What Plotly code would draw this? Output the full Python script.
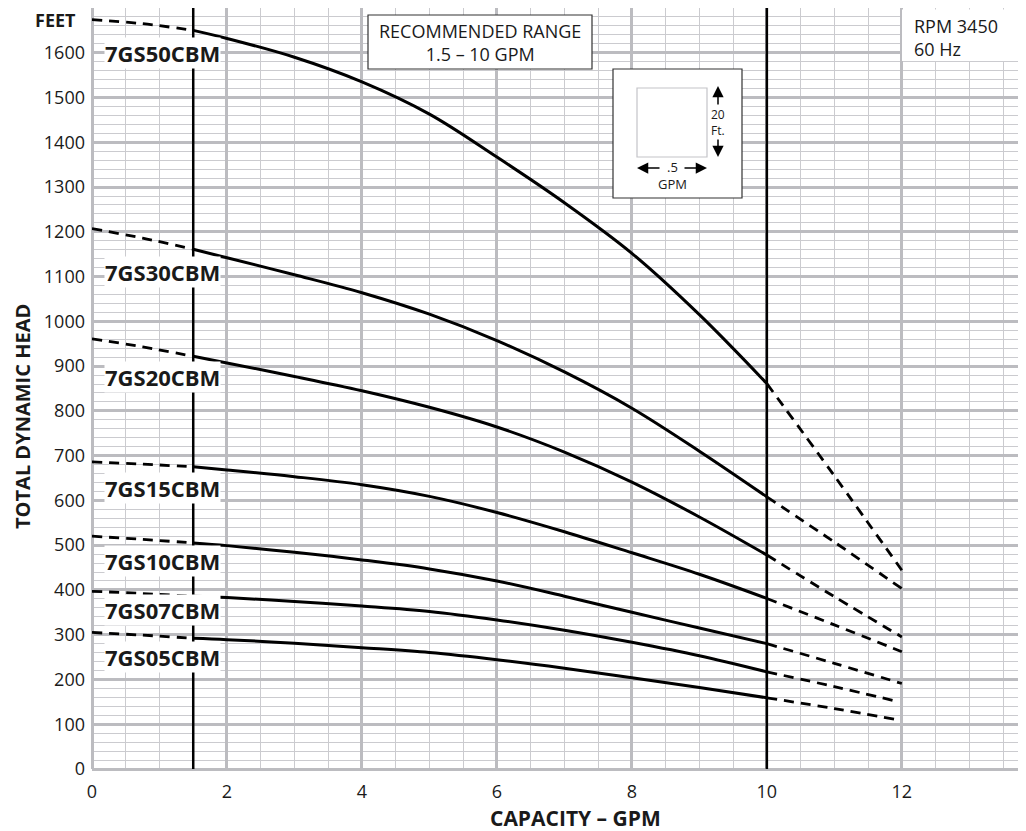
import plotly.graph_objects as go

# ---------------- data ----------------
MODELS = ["7GS50CBM", "7GS30CBM", "7GS20CBM", "7GS15CBM", "7GS10CBM", "7GS07CBM", "7GS05CBM"]

GPM_LOW = [0, 0.75, 1.5]                      # dashed, below recommended range
GPM_MID = [1.5, 2, 3, 4, 5, 6, 7, 8, 9, 10]   # solid, recommended range
GPM_HIGH = [10, 11, 12]                       # dashed, above recommended range
GPM_HIGH_SHORT = [10, 11, 11.9]

HEAD_50_LOW = [1674, 1665, 1650]
HEAD_50_MID = [1650, 1632, 1590, 1535, 1463, 1367, 1265, 1152, 1015, 861]
HEAD_50_HIGH = [861, 655, 444]

HEAD_30_LOW = [1207, 1186, 1161]
HEAD_30_MID = [1161, 1142, 1104, 1064, 1016, 957, 887, 806, 710, 608]
HEAD_30_HIGH = [608, 507, 403]

HEAD_20_LOW = [961, 943, 922]
HEAD_20_MID = [922, 907, 877, 845, 808, 764, 708, 641, 563, 478]
HEAD_20_HIGH = [478, 385, 295]

HEAD_15_LOW = [686, 681, 675]
HEAD_15_MID = [675, 668, 653, 635, 609, 573, 530, 483, 435, 381]
HEAD_15_HIGH = [381, 322, 262]

HEAD_10_LOW = [520, 513, 505]
HEAD_10_MID = [505, 499, 484, 467, 447, 420, 386, 350, 315, 280]
HEAD_10_HIGH = [280, 236, 191]

HEAD_07_LOW = [397, 392, 386]
HEAD_07_MID = [386, 383, 374, 364, 352, 333, 310, 283, 253, 217]
HEAD_07_HIGH = [217, 184, 152]

HEAD_05_LOW = [305, 299, 292]
HEAD_05_MID = [292, 289, 281, 271, 260, 244, 225, 204, 182, 159]
HEAD_05_HIGH = [159, 135, 111]

RECOMMENDED_GPM = [1.5, 10]

X_TICKS = [0, 2, 4, 6, 8, 10, 12]
Y_TICKS = list(range(0, 1800, 100))
Y_TICK_TEXT = [str(v) if v < 1700 else "" for v in Y_TICKS]

# ---------------- layout constants ----------------
OFF = 8                       # page body margin
FIG_W, FIG_H = 1026 - OFF, 831 - OFF
PL, PT, PR, PB = 92, 8, 1026, 769     # plot area in page pixels
L, T = PL - OFF, PT - OFF
R = FIG_W - (PR - OFF)
B = FIG_H - (PB - OFF)
PW, PH = PR - PL, PB - PT


def px(xp):
    return (xp - PL) / PW


def py(yp):
    return (PB - yp) / PH


FONT = "Open Sans"
INK = "#1a1a1a"
GRID_MAJOR = "#bcbcc0"
GRID_MINOR = "#cbcbcf"

series = [
    (HEAD_50_LOW, HEAD_50_MID, HEAD_50_HIGH, GPM_HIGH),
    (HEAD_30_LOW, HEAD_30_MID, HEAD_30_HIGH, GPM_HIGH),
    (HEAD_20_LOW, HEAD_20_MID, HEAD_20_HIGH, GPM_HIGH),
    (HEAD_15_LOW, HEAD_15_MID, HEAD_15_HIGH, GPM_HIGH),
    (HEAD_10_LOW, HEAD_10_MID, HEAD_10_HIGH, GPM_HIGH),
    (HEAD_07_LOW, HEAD_07_MID, HEAD_07_HIGH, GPM_HIGH_SHORT),
    (HEAD_05_LOW, HEAD_05_MID, HEAD_05_HIGH, GPM_HIGH_SHORT),
]

fig = go.Figure()
DASH = "10px,7px"
for name, (lo, mid, hi, gx_hi) in zip(MODELS, series):
    fig.add_trace(go.Scatter(x=GPM_LOW, y=lo, mode="lines", name=name, showlegend=False,
                             line=dict(color="black", width=2.8, dash=DASH, shape="spline")))
    fig.add_trace(go.Scatter(x=GPM_MID, y=mid, mode="lines", name=name, showlegend=False,
                             line=dict(color="black", width=3, shape="spline", smoothing=1.0)))
    fig.add_trace(go.Scatter(x=gx_hi, y=hi, mode="lines", name=name, showlegend=False,
                             line=dict(color="black", width=2.8, dash=DASH, shape="spline")))

shapes = []
for gx in RECOMMENDED_GPM:
    shapes.append(dict(type="line", xref="x", yref="paper", x0=gx, x1=gx, y0=0, y1=1,
                       line=dict(color="black", width=2.5), layer="above"))

# recommended range box
shapes.append(dict(type="rect", xref="paper", yref="paper",
                   x0=px(368), x1=px(592), y0=py(69), y1=py(15),
                   line=dict(color="#333333", width=1.2), fillcolor="white", layer="above"))
# scale inset box
shapes.append(dict(type="rect", xref="paper", yref="paper",
                   x0=px(613), x1=px(742), y0=py(198), y1=py(69),
                   line=dict(color="#333333", width=1.2), fillcolor="white", layer="above"))
shapes.append(dict(type="rect", xref="paper", yref="paper",
                   x0=px(637), x1=px(707), y0=py(157), y1=py(88),
                   line=dict(color="#c4c4c8", width=1.2), fillcolor="white", layer="above"))
# RPM white area
shapes.append(dict(type="rect", xref="paper", yref="paper",
                   x0=px(902), x1=1.0, y0=py(61), y1=py(PT + 1.5),
                   line=dict(width=0), fillcolor="white", layer="above"))


def note(x, y, text, size=18, xanchor="center", **kw):
    d = dict(xref="paper", yref="paper", x=px(x), y=py(y), text=text, showarrow=False,
             xanchor=xanchor, yanchor="middle", font=dict(family=FONT, size=size, color=INK))
    d.update(kw)
    return d


annotations = []
LABEL_Y_PX = [53, 272, 377, 488, 561, 610, 657]
for name, ly in zip(MODELS, LABEL_Y_PX):
    annotations.append(note(162, ly, f"<b>{name}</b>", size=22, bgcolor="white", borderpad=0))

annotations += [
    note(78, 20, "<b>FEET</b>", size=18, xanchor="right"),
    note(23, 417, "<b>TOTAL DYNAMIC HEAD</b>", size=20, textangle=-90),
    note(575, 818, "<b>CAPACITY – GPM</b>", size=21),
    note(480, 42, "RECOMMENDED RANGE<br>1.5 – 10 GPM", size=18),
    note(912, 37, "RPM 3450<br>60 Hz", size=18, xanchor="left", align="left"),
    # inset texts
    note(718, 114, "20", size=12),
    note(718, 130, "Ft.", size=12),
    note(672, 167, ".5", size=13),
    note(672, 184, "GPM", size=13),
]
# inset arrows
for hx, hy, ax, ay in [(718, 86, 0, 20), (718, 157, 0, -19), (637, 168, 24, 0), (707, 168, -24, 0)]:
    annotations.append(dict(xref="paper", yref="paper", x=px(hx), y=py(hy), ax=ax, ay=ay,
                            text="", showarrow=True, arrowhead=2, arrowsize=1.5,
                            arrowwidth=1.5, arrowcolor="black"))

fig.update_layout(
    width=FIG_W, height=FIG_H,
    margin=dict(l=L, r=R, t=T, b=B, pad=0),
    paper_bgcolor="white", plot_bgcolor="white",
    font=dict(family=FONT, size=18, color=INK),
    shapes=shapes, annotations=annotations,
    xaxis=dict(range=[0, 13.84], tickvals=X_TICKS, ticks="", showline=False,
               showgrid=True, gridcolor=GRID_MAJOR, gridwidth=2.5,
               zeroline=True, zerolinecolor=GRID_MAJOR, zerolinewidth=2.5,
               minor=dict(dtick=0.5, tick0=0, showgrid=True, gridcolor=GRID_MINOR, gridwidth=1.2),
               ticklabelstandoff=10, tickfont=dict(size=18)),
    yaxis=dict(range=[0, 1700], tickvals=Y_TICKS, ticktext=Y_TICK_TEXT, ticks="", showline=False,
               showgrid=True, gridcolor=GRID_MAJOR, gridwidth=2.5,
               zeroline=True, zerolinecolor=GRID_MAJOR, zerolinewidth=2.5,
               minor=dict(dtick=20, tick0=0, showgrid=True, gridcolor=GRID_MINOR, gridwidth=1.2),
               ticklabelstandoff=6, tickfont=dict(size=18)),
)

fig.write_html("out.html")
